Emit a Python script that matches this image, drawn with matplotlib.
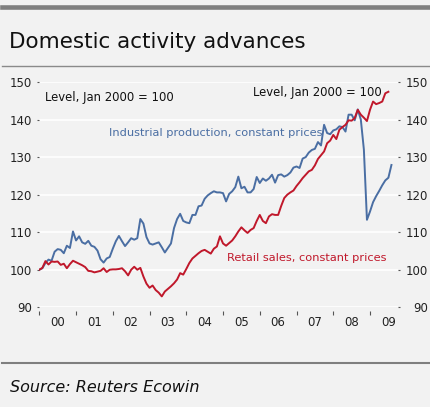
import numpy as np
import matplotlib
matplotlib.use("Agg")
import matplotlib.pyplot as plt
from matplotlib.lines import Line2D
from matplotlib.ticker import FixedLocator, NullFormatter
from matplotlib.transforms import ScaledTranslation

# Monthly index levels, Jan 2000 = 100
industrial_production = [
    100.0, 100.4, 101.8, 102.7, 102.4, 104.8, 105.5, 105.3, 104.4, 106.4, 105.8, 110.2,
    107.8, 108.9, 107.3, 106.9, 107.7, 106.4, 106.1, 105.1, 102.8, 101.9, 103.0, 103.4,
    105.6, 107.6, 109.0, 107.6, 106.3, 107.3, 108.4, 108.0, 108.4, 113.5, 112.3, 108.7,
    107.0, 106.7, 107.0, 107.3, 106.0, 104.6, 105.8, 107.0, 111.1, 113.5, 114.9, 113.0,
    112.6, 112.4, 114.6, 114.6, 116.9, 117.1, 118.9, 119.8, 120.4, 120.9, 120.6, 120.6,
    120.4, 118.2, 120.2, 120.9, 122.0, 124.8, 121.7, 122.1, 120.6, 120.6, 121.5, 124.7,
    123.1, 124.3, 123.7, 124.3, 125.3, 123.2, 125.2, 125.4, 124.8, 125.2, 125.9, 127.2,
    127.5, 127.1, 129.6, 130.0, 131.2, 131.9, 132.2, 134.0, 133.1, 138.6, 136.4, 136.1,
    137.1, 137.4, 138.2, 138.0, 136.8, 141.3, 141.3, 139.8, 142.7, 140.0, 132.0, 113.3,
    115.5, 118.0, 119.6, 121.0, 122.5, 123.8, 124.5, 127.9,
]

retail_sales = [
    100.0, 100.5, 102.3, 101.4, 102.2, 102.1, 102.2, 101.3, 101.6, 100.4, 101.5, 102.4,
    102.0, 101.6, 101.2, 100.7, 99.7, 99.6, 99.3, 99.5, 99.7, 100.4, 99.4, 100.0,
    100.1, 100.1, 100.2, 100.4, 99.6, 98.5, 100.0, 100.8, 100.0, 100.5, 98.2, 96.3,
    95.2, 95.8, 94.6, 93.9, 92.9, 94.2, 94.9, 95.6, 96.4, 97.4, 99.1, 98.7,
    100.2, 101.8, 103.0, 103.7, 104.4, 105.0, 105.3, 104.8, 104.3, 105.6, 106.2, 108.9,
    107.0, 106.4, 107.1, 107.8, 108.9, 110.2, 111.3, 110.5, 109.8, 110.6, 111.1, 113.0,
    114.6, 113.0, 112.4, 114.2, 114.8, 114.6, 114.6, 117.0, 119.1, 120.0, 120.6, 121.1,
    122.3, 123.3, 124.4, 125.3, 126.2, 126.6, 127.8, 129.5, 130.5, 131.5, 133.7, 134.4,
    135.9, 134.8, 137.3, 138.0, 138.6, 139.8, 139.7, 140.4, 142.6, 141.3, 140.5, 139.6,
    142.6, 144.8, 144.1, 144.4, 144.8, 147.0, 147.4,
]

year_labels = ["00", "01", "02", "03", "04", "05", "06", "07", "08", "09"]
y_ticks = [90, 100, 110, 120, 130, 140, 150]

BG = "#f2f2f2"
BLUE = "#4a6ea3"
RED = "#c0182b"
TXT = "#222222"

W, H = 431, 407
fig = plt.figure(figsize=(W / 100, H / 100), dpi=100, facecolor=BG)


def fx(px):
    return px / W


def fy(py):
    return 1 - py / H


# frame decorations
fig.add_artist(Line2D([fx(2), 1], [fy(7.3), fy(7.3)], color="#808080", lw=3.3))
fig.add_artist(Line2D([fx(2), 1], [fy(66), fy(66)], color="#8a8a8a", lw=1.0))
fig.add_artist(Line2D([fx(2), 1], [fy(363.3), fy(363.3)], color="#7f7f7f", lw=1.5))

fig.text(fx(9), fy(42), "Domestic activity advances", fontsize=15.5, color="#111111",
         va="center", ha="left")
fig.text(fx(10), fy(388), "Source: Reuters Ecowin", fontsize=11.5, style="italic",
         color="#111111", va="center", ha="left")

ax_left, ax_right = 39.3, 398.3
ax_top, ax_bottom = 82.0, 307.3
ax = fig.add_axes([fx(ax_left), fy(ax_bottom), fx(ax_right - ax_left),
                   (ax_bottom - ax_top) / H])
ax.set_facecolor(BG)

t_ip = 2000 + np.arange(len(industrial_production)) / 12
t_rs = 2000 + np.arange(len(retail_sales)) / 12
ax.plot(t_ip, industrial_production, color=BLUE, lw=1.4, zorder=3, solid_joinstyle="round")
ax.plot(t_rs, retail_sales, color=RED, lw=1.4, zorder=3, solid_joinstyle="round")

ax.set_xlim(2000, 2009.77)
ax.set_ylim(90, 150)

for s in ax.spines.values():
    s.set_visible(False)
ax.spines["bottom"].set_position(("outward", 3))

ax.set_yticks(y_ticks)
ax.yaxis.grid(True, color="white", lw=1.2)
ax.set_axisbelow(True)
ax.tick_params(axis="y", which="both", length=1.5, width=0.8, color="#555555",
               labelsize=8.5, labelcolor=TXT, left=True, right=True,
               labelleft=True, labelright=True, pad=3.5)
for tk in ax.yaxis.get_major_ticks():
    tk.label2.set_horizontalalignment("right")

years = np.arange(2000, 2010)
ax.xaxis.set_major_locator(FixedLocator(years))
ax.xaxis.set_major_formatter(NullFormatter())
ax.xaxis.set_minor_locator(FixedLocator(years + 0.5))
ax.set_xticklabels(year_labels, minor=True)
ax.tick_params(axis="x", which="major", length=3, width=0.8, color="#555555", direction="out")
ax.tick_params(axis="x", which="minor", length=0, labelsize=8.5, labelcolor=TXT, pad=3.5)

fig.canvas.draw()
# right-hand labels end just inside the right edge of the figure
offset = ScaledTranslation(23 / 100, 0, fig.dpi_scale_trans)
for tk in ax.yaxis.get_major_ticks():
    tk.label2.set_transform(tk.label2.get_transform() + offset)

fig.text(fx(45), fy(97.5), "Level, Jan 2000 = 100", fontsize=8.4, color="#111111",
         va="center", ha="left")
fig.text(fx(253), fy(92.5), "Level, Jan 2000 = 100", fontsize=8.4, color="#111111",
         va="center", ha="left")
fig.text(fx(109), fy(133.5), "Industrial production, constant prices", fontsize=8.2,
         color=BLUE, va="center", ha="left")
fig.text(fx(227), fy(258), "Retail sales, constant prices", fontsize=8.2,
         color=RED, va="center", ha="left")

fig.savefig("out.png", dpi=100, facecolor=BG)
